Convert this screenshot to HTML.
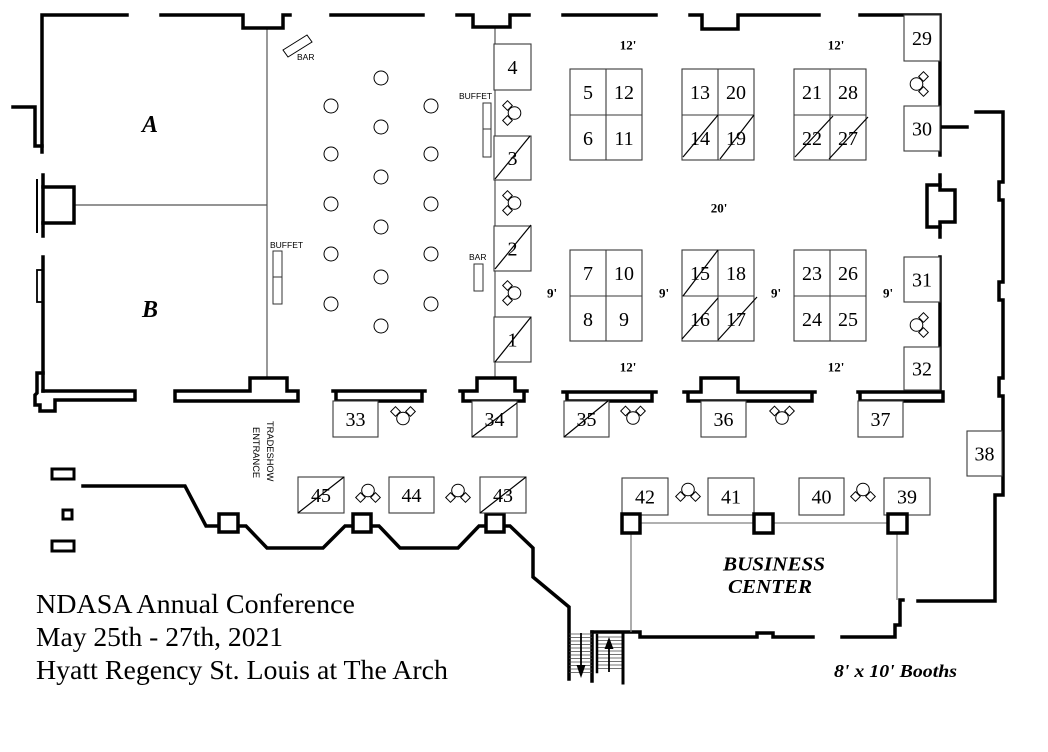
<!DOCTYPE html>
<html><head><meta charset="utf-8">
<style>
html,body{margin:0;padding:0;background:#fff;}
svg{display:block;}
.w{fill:none;stroke:#000;stroke-width:3.5;stroke-linejoin:miter;stroke-linecap:square;}
.t{fill:none;stroke:#555;stroke-width:1.2;}
.g{fill:none;stroke:#808080;stroke-width:1.3;}
.b{fill:#fff;stroke:#3a3a3a;stroke-width:1.1;}
.d{stroke:#000;stroke-width:1.2;}
.n{font-family:"Liberation Serif",serif;font-size:20px;fill:#000;text-anchor:middle;}
.dim{font-family:"Liberation Serif",serif;font-size:13px;font-weight:bold;fill:#000;text-anchor:middle;}
.s{font-family:"Liberation Sans",sans-serif;font-size:8.5px;fill:#000;}
.tab{fill:none;stroke:#000;stroke-width:1;}
.p{fill:#fff;stroke:#000;stroke-width:3.5;}
.tr{stroke:#444;stroke-width:0.8;}
</style></head><body>
<svg width="1048" height="752" viewBox="0 0 1048 752" xmlns="http://www.w3.org/2000/svg">
<defs>
<g id="ch" fill="#fff" stroke="#000" stroke-width="1">
<circle cx="0" cy="3.5" r="6.3"/>
<path d="M-7.5,-8.3 L-2.7,-3.5 L-7.5,1.3 L-12.3,-3.5Z"/>
<path d="M7.5,-8.3 L12.3,-3.5 L7.5,1.3 L2.7,-3.5Z"/>
</g>
</defs>

<!-- interior thin lines -->
<path class="t" d="M267,29 V378 M495,27 V378 M74,205 H267"/>

<!-- walls -->
<path class="w" d="M42,152 L42,15 L127,15"/>
<path class="w" d="M161,15 L243,15 L243,28 L283,28 L283,15 L290,15"/>
<path class="w" d="M331,15 L423,15"/>
<path class="w" d="M457,15 L473,15 L473,27 L510,27 L510,15 L529,15"/>
<path class="w" d="M563,15 L656,15"/>
<path class="w" d="M690,15 L702,15 L702,29 L738,29 L738,15 L819,15"/>
<path class="w" d="M860,15 L940,15 L940,155"/>
<path class="w" d="M940,127 L967,127"/>
<path class="w" d="M13,107 L35,107 L35,146 L42,146"/>
<!-- left pillar -->
<path class="w" d="M43,175 V236"/>
<path class="w" style="stroke-width:2" d="M37,180 V232"/>
<path class="w" d="M43,187 H74 V223 H43"/>
<!-- room B left wall -->
<path class="w" d="M43,257 V391"/>
<rect x="37" y="270" width="6" height="32" fill="none" stroke="#000" stroke-width="1.8"/>
<path class="w" d="M43,373 L37,373 L37,393 L35,395 L35,405 L40,405 L40,411 L55,411 L55,400 L135,400 L135,391 L43,391"/>
<!-- bottom segments -->
<path class="w" d="M175,391 L250,391 L250,378 L287,378 L287,391 L298,391 L298,401 L175,401 Z"/>
<path class="w" d="M333,391 L425,391 M336,391 V401 H422 V391"/>
<path class="w" d="M460,391 H477 V378 H515 V391 H527 M463,391 V401 H524 V391"/>
<path class="w" d="M563,392 H656 M567,392 V401 H652 V392"/>
<path class="w" d="M684,392 H701 V378 H738 V392 H815 M688,392 V401 H812 V392"/>
<path class="w" d="M858,392 H943 M860,392 V401 H943 V392 M940,257 V392"/>
<!-- right pillar -->
<path class="w" d="M940,175 V190 H955 V222 H940 V237"/>
<path class="w" d="M940,185 H927 V227 H940"/>
<!-- right outer wall -->
<path class="w" d="M976,112 H1003 V182 H999 V200 H1003 V282 H999 V300 H1003 V378 H999 V396 H1003 V495 H995 V601 H918"/>
<!-- business center bottom wall -->
<path class="w" d="M592,632 H640 V637 H757 V633 H773 V637 H813"/>
<path class="w" d="M842,637 H895 V625 H900 V600 H903"/>
<!-- lower lobby wall -->
<path class="w" d="M83,486 H185 L206,526 H219"/>
<path class="w" d="M238,526 H246 L267,548 H323 L345,526 H353"/>
<path class="w" d="M371,526 H379 L400,548 H458 L479,526 H486"/>
<path class="w" d="M504,526 L510,526 L533,548 V577 L569,607 V679"/>
<path class="w" d="M592,632 V681"/>
<rect class="p" x="219" y="514" width="19" height="18"/>
<rect class="p" x="353" y="514" width="18" height="18"/>
<rect class="p" x="486" y="514" width="18" height="18"/>
<!-- small rects far left -->
<rect x="52" y="469" width="22" height="10" fill="none" stroke="#000" stroke-width="3"/>
<rect x="63" y="510" width="9" height="9" fill="none" stroke="#000" stroke-width="3"/>
<rect x="52" y="541" width="22" height="10" fill="none" stroke="#000" stroke-width="3"/>

<!-- stairs -->
<g class="tr">
<line x1="569" y1="634" x2="592" y2="634"/><line x1="569" y1="637.5" x2="592" y2="637.5"/>
<line x1="569" y1="641" x2="592" y2="641"/><line x1="569" y1="644.5" x2="592" y2="644.5"/>
<line x1="569" y1="648" x2="592" y2="648"/><line x1="569" y1="651.5" x2="592" y2="651.5"/>
<line x1="569" y1="655" x2="592" y2="655"/><line x1="569" y1="658.5" x2="592" y2="658.5"/>
<line x1="569" y1="662" x2="592" y2="662"/><line x1="569" y1="665.5" x2="592" y2="665.5"/>
<line x1="569" y1="669" x2="592" y2="669"/><line x1="569" y1="672.5" x2="592" y2="672.5"/>
<line x1="597" y1="637" x2="623" y2="637"/><line x1="597" y1="640.5" x2="623" y2="640.5"/>
<line x1="597" y1="644" x2="623" y2="644"/><line x1="597" y1="647.5" x2="623" y2="647.5"/>
<line x1="597" y1="651" x2="623" y2="651"/><line x1="597" y1="654.5" x2="623" y2="654.5"/>
<line x1="597" y1="658" x2="623" y2="658"/><line x1="597" y1="661.5" x2="623" y2="661.5"/>
<line x1="597" y1="665" x2="623" y2="665"/><line x1="597" y1="668.5" x2="623" y2="668.5"/>
</g>
<path class="w" style="stroke-width:2.5" d="M597,635 V672"/>
<path class="w" style="stroke-width:3" d="M623,635 V683"/>
<line x1="581" y1="633" x2="581" y2="668" stroke="#000" stroke-width="1.8"/>
<polygon points="576.5,665 585.5,665 581,678" fill="#000"/>
<line x1="609" y1="672" x2="609" y2="646" stroke="#000" stroke-width="1.8"/>
<polygon points="604.5,649 613.5,649 609,637" fill="#000"/>

<!-- business center -->
<path class="g" d="M640,523 H754 M773,523 H888 M631,533 V632 M897,533 V600"/>

<!-- booths -->
<g class="b">
<rect x="494" y="44" width="37" height="46"/>
<rect x="494" y="136" width="37" height="44"/>
<rect x="494" y="226" width="37" height="45"/>
<rect x="494" y="317" width="37" height="45"/>
<rect x="904" y="15" width="36" height="46"/>
<rect x="904" y="106" width="36" height="45"/>
<rect x="904" y="257" width="36" height="45"/>
<rect x="904" y="347" width="36" height="43"/>
<rect x="333" y="401" width="45" height="36"/>
<rect x="472" y="401" width="45" height="36"/>
<rect x="564" y="401" width="45" height="36"/>
<rect x="701" y="401" width="45" height="36"/>
<rect x="858" y="401" width="45" height="36"/>
<rect x="967" y="431" width="35" height="45"/>
<rect x="884" y="478" width="46" height="37"/>
<rect x="799" y="478" width="45" height="37"/>
<rect x="708" y="478" width="46" height="37"/>
<rect x="622" y="478" width="46" height="37"/>
<rect x="480" y="477" width="46" height="36"/>
<rect x="389" y="477" width="45" height="36"/>
<rect x="298" y="477" width="46" height="36"/>
<!-- grid blocks -->
<rect x="570" y="69" width="72" height="91"/>
<rect x="682" y="69" width="72" height="91"/>
<rect x="794" y="69" width="72" height="91"/>
<rect x="570" y="250" width="72" height="91"/>
<rect x="682" y="250" width="72" height="91"/>
<rect x="794" y="250" width="72" height="91"/>
<path d="M606,69 V160 M570,115 H642 M718,69 V160 M682,115 H754 M830,69 V160 M794,115 H866"/>
<path d="M606,250 V341 M570,296 H642 M718,250 V341 M682,296 H754 M830,250 V341 M794,296 H866"/>
</g>
<!-- BC pillars -->
<rect class="p" x="622" y="514" width="18" height="19"/>
<rect class="p" x="754" y="514" width="19" height="19"/>
<rect class="p" x="888" y="514" width="19" height="19"/>

<!-- booth numbers -->
<g class="n">
<text x="512.5" y="73.8">4</text>
<text x="512.5" y="164.8">3</text>
<text x="512.5" y="255.3">2</text>
<text x="512.5" y="346.3">1</text>
<text x="922" y="44.8">29</text>
<text x="922" y="135.3">30</text>
<text x="922" y="286.3">31</text>
<text x="922" y="375.3">32</text>
<text x="355.5" y="425.8">33</text>
<text x="494.5" y="425.8">34</text>
<text x="586.5" y="425.8">35</text>
<text x="723.5" y="425.8">36</text>
<text x="880.5" y="425.8">37</text>
<text x="984.5" y="460.3">38</text>
<text x="907" y="503.3">39</text>
<text x="821.5" y="503.3">40</text>
<text x="731" y="503.3">41</text>
<text x="645" y="503.3">42</text>
<text x="503" y="501.8">43</text>
<text x="411.5" y="501.8">44</text>
<text x="321" y="501.8">45</text>
<text x="588" y="98.8">5</text><text x="624" y="98.8">12</text>
<text x="588" y="144.8">6</text><text x="624" y="144.8">11</text>
<text x="700" y="98.8">13</text><text x="736" y="98.8">20</text>
<text x="700" y="144.8">14</text><text x="736" y="144.8">19</text>
<text x="812" y="98.8">21</text><text x="848" y="98.8">28</text>
<text x="812" y="144.8">22</text><text x="848" y="144.8">27</text>
<text x="588" y="279.8">7</text><text x="624" y="279.8">10</text>
<text x="588" y="325.8">8</text><text x="624" y="325.8">9</text>
<text x="700" y="279.8">15</text><text x="736" y="279.8">18</text>
<text x="700" y="325.8">16</text><text x="736" y="325.8">17</text>
<text x="812" y="279.8">23</text><text x="848" y="279.8">26</text>
<text x="812" y="325.8">24</text><text x="848" y="325.8">25</text>
</g>

<!-- diagonals -->
<g class="d">
<line x1="495" y1="179" x2="530" y2="136"/>
<line x1="495" y1="269" x2="531" y2="225"/>
<line x1="495" y1="362" x2="531" y2="317"/>
<line x1="472" y1="437" x2="517" y2="403"/>
<line x1="564" y1="437" x2="608" y2="401"/>
<line x1="298" y1="513" x2="344" y2="477"/>
<line x1="480" y1="513" x2="526" y2="477"/>
<line x1="683" y1="157" x2="718" y2="115"/>
<line x1="720" y1="159" x2="754" y2="115"/>
<line x1="795" y1="157" x2="833" y2="116"/>
<line x1="829" y1="159" x2="868" y2="117"/>
<line x1="683" y1="296" x2="718" y2="250"/>
<line x1="682" y1="339" x2="718" y2="298"/>
<line x1="718" y1="340" x2="757" y2="297"/>
</g>

<!-- chairs -->
<use href="#ch" transform="translate(403,415)"/>
<use href="#ch" transform="translate(633,414.5)"/>
<use href="#ch" transform="translate(782,414.5)"/>
<use href="#ch" transform="translate(368,494) rotate(180)"/>
<use href="#ch" transform="translate(458,494) rotate(180)"/>
<use href="#ch" transform="translate(688,493) rotate(180)"/>
<use href="#ch" transform="translate(863,493) rotate(180)"/>
<use href="#ch" transform="translate(511,113) rotate(-90)"/>
<use href="#ch" transform="translate(511,203) rotate(-90)"/>
<use href="#ch" transform="translate(511,293) rotate(-90)"/>
<use href="#ch" transform="translate(920,84) rotate(90)"/>
<use href="#ch" transform="translate(920,325) rotate(90)"/>

<!-- round tables -->
<g class="tab">
<circle cx="331" cy="106" r="7"/><circle cx="331" cy="154" r="7"/><circle cx="331" cy="204" r="7"/><circle cx="331" cy="254" r="7"/><circle cx="331" cy="304" r="7"/>
<circle cx="381" cy="78" r="7"/><circle cx="381" cy="127" r="7"/><circle cx="381" cy="177" r="7"/><circle cx="381" cy="227" r="7"/><circle cx="381" cy="277" r="7"/><circle cx="381" cy="326" r="7"/>
<circle cx="431" cy="106" r="7"/><circle cx="431" cy="154" r="7"/><circle cx="431" cy="204" r="7"/><circle cx="431" cy="254" r="7"/><circle cx="431" cy="304" r="7"/>
</g>

<!-- bars & buffets -->
<polygon points="283,50 307,35 312,42 288,57" fill="none" stroke="#000" stroke-width="1"/>
<g fill="none" stroke="#333" stroke-width="1">
<rect x="483" y="103" width="8" height="54"/><line x1="483" y1="129" x2="491" y2="129"/>
<rect x="273" y="251" width="9" height="53"/><line x1="273" y1="277" x2="282" y2="277"/>
<rect x="474" y="264" width="9" height="27"/>
</g>
<text class="s" x="297" y="60">BAR</text>
<text class="s" x="459" y="99">BUFFET</text>
<text class="s" x="270" y="248">BUFFET</text>
<text class="s" x="469" y="260">BAR</text>
<text class="s" style="font-size:9.3px" transform="translate(267,421) rotate(90)">TRADESHOW</text>
<text class="s" style="font-size:9.3px" transform="translate(253,427) rotate(90)">ENTRANCE</text>

<!-- dimension labels -->
<g class="dim">
<text x="628" y="49.5">12'</text>
<text x="836" y="49.5">12'</text>
<text x="628" y="371.5">12'</text>
<text x="836" y="371.5">12'</text>
<text x="719" y="212.5">20'</text>
<text x="552" y="297.5">9'</text>
<text x="664" y="297.5">9'</text>
<text x="776" y="297.5">9'</text>
<text x="888" y="297.5">9'</text>
</g>

<!-- room labels -->
<g font-family="Liberation Serif, serif" font-weight="bold" font-style="italic" fill="#000" text-anchor="middle">
<text x="150" y="132" font-size="24">A</text>
<text x="150" y="317" font-size="24">B</text>
<text x="774" y="570.5" font-size="20.5" textLength="102" lengthAdjust="spacingAndGlyphs">BUSINESS</text>
<text x="770" y="593" font-size="20.5" textLength="84" lengthAdjust="spacingAndGlyphs">CENTER</text>
</g>
<text x="834" y="677" font-family="Liberation Serif, serif" font-weight="bold" font-style="italic" font-size="18" textLength="123" lengthAdjust="spacingAndGlyphs">8' x 10' Booths</text>

<!-- title -->
<g font-family="Liberation Serif, serif" font-size="27" fill="#000">
<text x="36" y="613" textLength="319" lengthAdjust="spacingAndGlyphs">NDASA Annual Conference</text>
<text x="36" y="646" textLength="247" lengthAdjust="spacingAndGlyphs">May 25th - 27th, 2021</text>
<text x="36" y="679" textLength="412" lengthAdjust="spacingAndGlyphs">Hyatt Regency St. Louis at The Arch</text>
</g>
</svg>
</body></html>
